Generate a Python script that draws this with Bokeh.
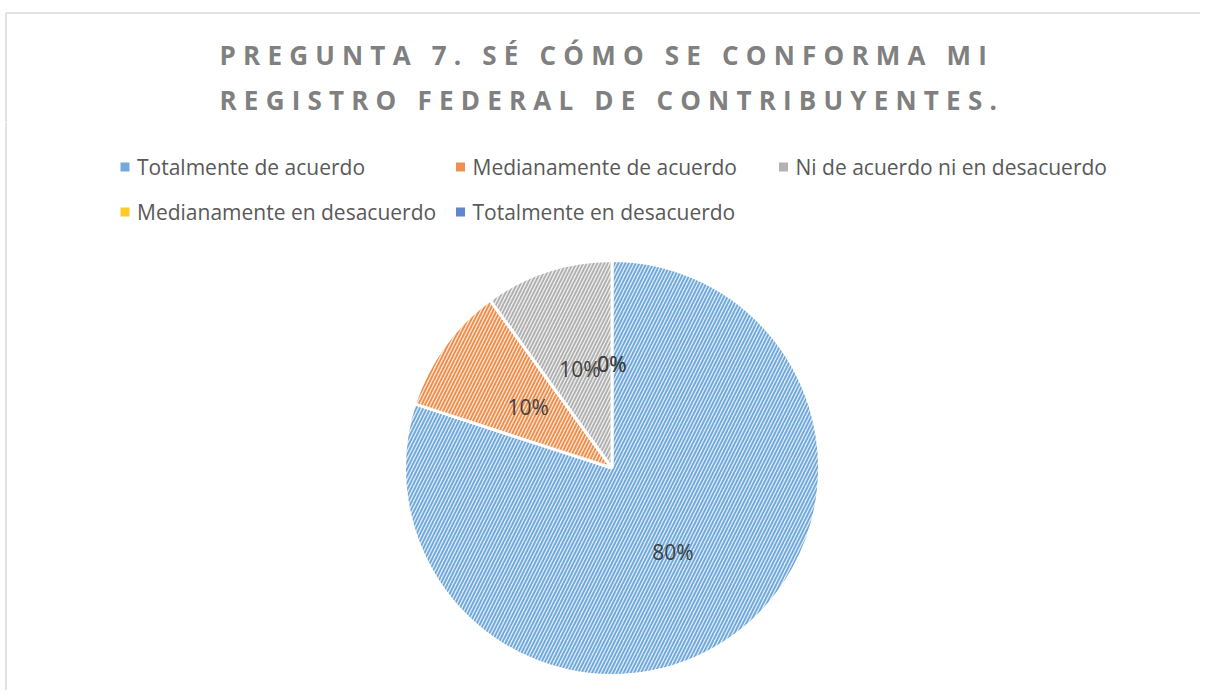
import math
from bokeh.plotting import figure
from bokeh.layouts import column
from bokeh.models import Range1d, ColumnDataSource
from bokeh.core.properties import value
from bokeh.embed import file_html
from bokeh.resources import INLINE

# ---- data ----
title_lines = ["PREGUNTA 7. SÉ CÓMO SE CONFORMA MI",
               "REGISTRO FEDERAL DE CONTRIBUYENTES."]
categories = ["Totalmente de acuerdo", "Medianamente de acuerdo",
              "Ni de acuerdo ni en desacuerdo", "Medianamente en desacuerdo",
              "Totalmente en desacuerdo"]
percent_values = [80, 10, 10, 0, 0]
hatch_colors = ["#5b9bd5", "#ed7d31", "#a5a5a5", "#ffc000", "#4472c4"]
fill_tints = ["#deeaf6", "#fbe5d6", "#eeeeee", "#fff2cc", "#d9e2f3"]

# ---- layout: data units == picture pixels (y measured downward via Y) ----
W, H = 1200, 690
TH = 122  # height of the title strip


def Y(py):
    return H - py


def make_fig(height, y0, y1, **kw):
    f = figure(width=W, height=height, x_range=Range1d(0, W), y_range=Range1d(y0, y1),
               output_backend="svg", toolbar_location=None, min_border=0, **kw)
    f.axis.visible = False
    f.grid.visible = False
    f.outline_line_color = None
    f.background_fill_color = "white"
    return f


# title strip (letter-spaced heading)
t = make_fig(TH, Y(TH), H, styles={"letter-spacing": "7.2px"})
t.segment(x0=[5.5, 5.5], y0=[Y(12.5), Y(12.5)], x1=[5.5, W], y1=[Y(TH), Y(12.5)],
          line_color="#d9d9d9", line_width=1.5)
t.text(x=[219, 219], y=[Y(54), Y(99)], text=title_lines,
       text_font=value("Open Sans"), text_font_style="bold",
       text_font_size="26px", text_color="#808080",
       text_align="left", text_baseline="middle")

# chart body
p = make_fig(H - TH, 0, Y(TH))
p.segment(x0=[5.5], y0=[Y(TH)], x1=[5.5], y1=[0],
          line_color="#d9d9d9", line_width=1.5)

# ---- pie ----
cx, cy, r = 611.5, 467.5, 207.5
total = sum(percent_values)
starts, ends, mids = [], [], []
cum = 0.0
for v in percent_values:
    a0 = math.pi / 2 - 2 * math.pi * cum / total
    a1 = math.pi / 2 - 2 * math.pi * (cum + v) / total
    starts.append(a0)
    ends.append(a1)
    mids.append((a0 + a1) / 2)
    cum += v

keep = [i for i, v in enumerate(percent_values) if v > 0]
src = ColumnDataSource(dict(start=[starts[i] for i in keep], end=[ends[i] for i in keep],
                            tint=[fill_tints[i] for i in keep],
                            hc=[hatch_colors[i] for i in keep]))
p.wedge(x=cx, y=Y(cy), radius=r, start_angle="start", end_angle="end",
        direction="clock", fill_color="tint", line_color="white", line_width=3,
        hatch_pattern="/", hatch_color="hc", hatch_scale=7, hatch_weight=1.8,
        hatch_alpha=0.85, source=src)

lab_x = [cx + 0.5 * r * math.cos(m) for m in mids]
lab_y = [Y(cy) + 0.5 * r * math.sin(m) for m in mids]
labels = [f"{v}%" for v in percent_values]
p.text(x=lab_x, y=lab_y, text=labels, text_font=value("Open Sans"),
       text_font_size="21px", text_color="#404040",
       text_align="center", text_baseline="middle")

# ---- legend ----
mk_x = [124.5, 460, 783, 124.5, 460]
row_y = [166.5, 166.5, 166.5, 211.5, 211.5]
p.scatter(x=mk_x, y=[Y(v) for v in row_y], marker="square", size=9,
          fill_color=hatch_colors, fill_alpha=0.85, line_color=None)
p.text(x=[v + 12 for v in mk_x], y=[Y(v) for v in row_y], text=categories,
       text_font=value("Open Sans"), text_font_size="21px", text_color="#595959",
       text_align="left", text_baseline="middle")

layout = column(t, p, spacing=0)
open("out.html", "w").write(file_html(layout, INLINE))
